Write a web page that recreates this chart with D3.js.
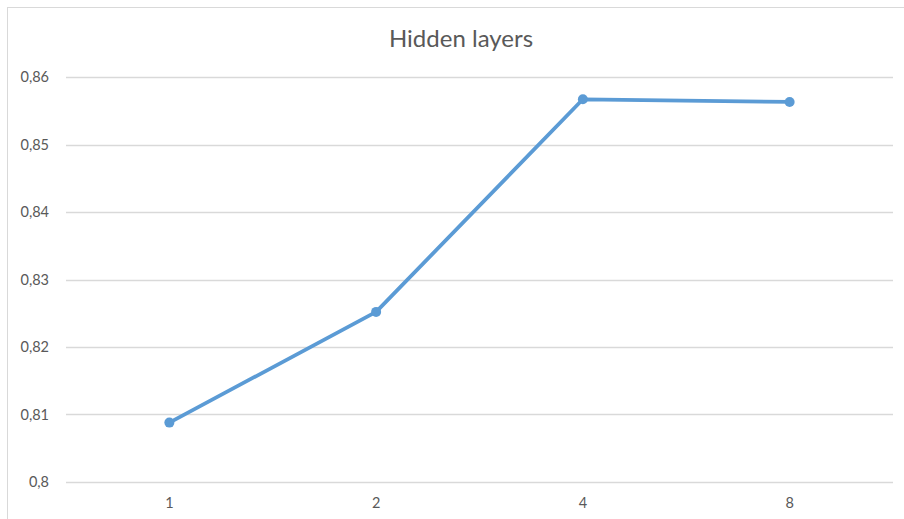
<!DOCTYPE html>
<html>
<head>
<meta charset="utf-8">
<script src="https://cdn.jsdelivr.net/npm/d3@7/dist/d3.min.js"></script>
<style>
  html, body { margin: 0; padding: 0; background: #fff; }
  svg { display: block; font-family: Lato, "Open Sans", sans-serif; }
</style>
</head>
<body>
<script>
// Accuracy by number of hidden layers
const categories = ["1", "2", "4", "8"];
const accuracy = [0.8088, 0.8252, 0.8567, 0.8563];
const yTicks = [0.80, 0.81, 0.82, 0.83, 0.84, 0.85, 0.86];
const chartTitle = "Hidden layers";

const W = 904, H = 519;
const margin = { left: 66, right: 11, top: 77, bottom: 37 };

const svg = d3.select("body").append("svg")
  .attr("width", W).attr("height", H);

// Chart frame
svg.append("rect")
  .attr("x", 7.5).attr("y", 7.5)
  .attr("width", W + 10).attr("height", H + 10)
  .attr("fill", "#fff").attr("stroke", "#d9d9d9").attr("stroke-width", 1);

const x = d3.scaleBand()
  .domain(categories)
  .range([margin.left, W - margin.right]);

const y = d3.scaleLinear()
  .domain([0.80, 0.86])
  .range([H - margin.bottom, margin.top]);

// Horizontal gridlines
svg.append("g")
  .selectAll("line")
  .data(yTicks)
  .join("line")
  .attr("x1", margin.left).attr("x2", W - margin.right)
  .attr("y1", d => Math.round(y(d)) + 0.5)
  .attr("y2", d => Math.round(y(d)) + 0.5)
  .attr("stroke", "#d9d9d9").attr("stroke-width", 1.3);

// Y axis labels
const fmt = d => String(+d.toFixed(2)).replace(".", ",");
const yAxis = d3.axisLeft(y).tickValues(yTicks).tickFormat(fmt).tickSize(0).tickPadding(17);
const gy = svg.append("g").attr("transform", `translate(${margin.left},0)`).call(yAxis);
gy.select(".domain").remove();
gy.selectAll("text").attr("fill", "#595959").style("font-size", "14.5px")
  .style("font-family", "Lato, 'Open Sans', sans-serif");

// X axis labels
const xAxis = d3.axisBottom(x).tickSize(0).tickPadding(16);
const gx = svg.append("g").attr("transform", `translate(0,${H - margin.bottom})`).call(xAxis);
gx.select(".domain").remove();
gx.selectAll("text").attr("fill", "#595959").style("font-size", "14.5px")
  .style("font-family", "Lato, 'Open Sans', sans-serif");

// Title
svg.append("text")
  .attr("x", 461).attr("y", 47)
  .attr("text-anchor", "middle")
  .attr("fill", "#595959")
  .style("font-size", "24px")
  .text(chartTitle);

// Series line and markers
const cx = d => x(d) + x.bandwidth() / 2;
const line = d3.line()
  .x((d, i) => cx(categories[i]))
  .y(d => y(d));

svg.append("path")
  .datum(accuracy)
  .attr("d", line)
  .attr("fill", "none")
  .attr("stroke", "#5b9bd5")
  .attr("stroke-width", 3.8)
  .attr("stroke-linejoin", "round");

svg.append("g")
  .selectAll("circle")
  .data(accuracy)
  .join("circle")
  .attr("cx", (d, i) => cx(categories[i]))
  .attr("cy", d => y(d))
  .attr("r", 5)
  .attr("fill", "#5b9bd5");
</script>
</body>
</html>
